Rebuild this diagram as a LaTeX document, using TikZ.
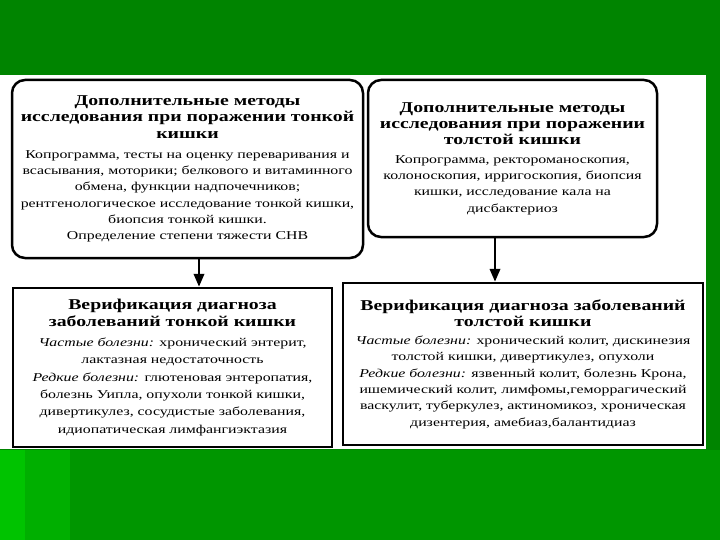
\documentclass[tikz,border=0pt]{standalone}
\usepackage{fontspec}
\setmainfont[FakeStretch=1.32]{Liberation Serif}
\usetikzlibrary{arrows.meta}

\definecolor{slidegreen}{RGB}{0,132,0}
\definecolor{lightgreen}{RGB}{0,195,0}
\definecolor{midgreen}{RGB}{0,175,0}
\definecolor{lowgreen}{RGB}{0,150,0}
\newcommand{\hd}[1]{{\fontsize{15}{17}\selectfont\bfseries #1}}

\begin{document}
\begin{tikzpicture}[
  x=1pt, y=-1pt,
  font=\fontsize{12}{16.3}\selectfont,
  >={Triangle[length=4.5mm, width=3.6mm]},
  rbox/.style={draw, line width=2.5pt, rounded corners=13pt, fill=white, align=center, inner sep=0pt},
  vbox/.style={draw, line width=2.5pt, fill=white, align=center, inner sep=0pt},
  arr/.style={->, line width=2.5pt},
]
% slide background
\useasboundingbox (0,0) rectangle (720,540);
\fill[slidegreen] (0,0) rectangle (720,540);
\fill[lowgreen] (0,450) rectangle (720,540);
\fill[midgreen] (0,450) rectangle (70,540);
\fill[lightgreen] (0,450) rectangle (25,540);
\fill[white] (0,75) rectangle (706,449);

\node[rbox, minimum width=351, minimum height=178] (smallmeth) at (187.5,169)
  {\hd{Дополнительные методы}\\ \hd{исследования при  поражении тонкой}\\ \hd{кишки}\\[4pt]
   Копрограмма, тесты на оценку переваривания и\\
   всасывания, моторики; белкового и витаминного\\
   обмена, функции надпочечников;\\
   рентгенологическое исследование тонкой кишки,\\
   биопсия тонкой кишки.\\
   Определение степени тяжести СНВ};
\node[rbox, minimum width=289, minimum height=157] (largemeth) at (512.5,158.5)
  {\hd{Дополнительные методы}\\ \hd{исследования при поражении}\\ \hd{толстой кишки}\\[2pt]
   Копрограмма, ректороманоскопия,\\
   колоноскопия, ирригоскопия, биопсия\\
   кишки, исследование кала на\\
   дисбактериоз};
\node[vbox, minimum width=319, minimum height=159, font=\fontsize{12}{17.4}\selectfont] (smalldiag) at (172.5,367.5)
  {\hd{Верификация диагноза}\\ \hd{заболеваний тонкой кишки}\\[2pt]
   \textit{Частые болезни:} хронический энтерит,\\
   лактазная недостаточность\\
   \textit{Редкие болезни:} глютеновая энтеропатия,\\
   болезнь Уипла, опухоли тонкой кишки,\\
   дивертикулез, сосудистые заболевания,\\
   идиопатическая лимфангиэктазия};
\node[vbox, minimum width=360, minimum height=162] (largediag) at (523,364)
  {\hd{Верификация диагноза заболеваний}\\ \hd{толстой кишки}\\[2pt]
   \textit{Частые болезни:} хронический колит, дискинезия\\
   толстой кишки, дивертикулез, опухоли\\
   \textit{Редкие болезни:} язвенный колит, болезнь Крона,\\
   ишемический колит, лимфомы,геморрагический\\
   васкулит, туберкулез, актиномикоз, хроническая\\
   дизентерия, амебиаз,балантидиаз};

\draw[arr] ([xshift=11.5pt]smallmeth.south) -- ([xshift=11.5pt]smallmeth.south |- smalldiag.north);
\draw[arr] ([xshift=-17.5pt]largemeth.south) -- ([xshift=-17.5pt]largemeth.south |- largediag.north);
\end{tikzpicture}
\end{document}
